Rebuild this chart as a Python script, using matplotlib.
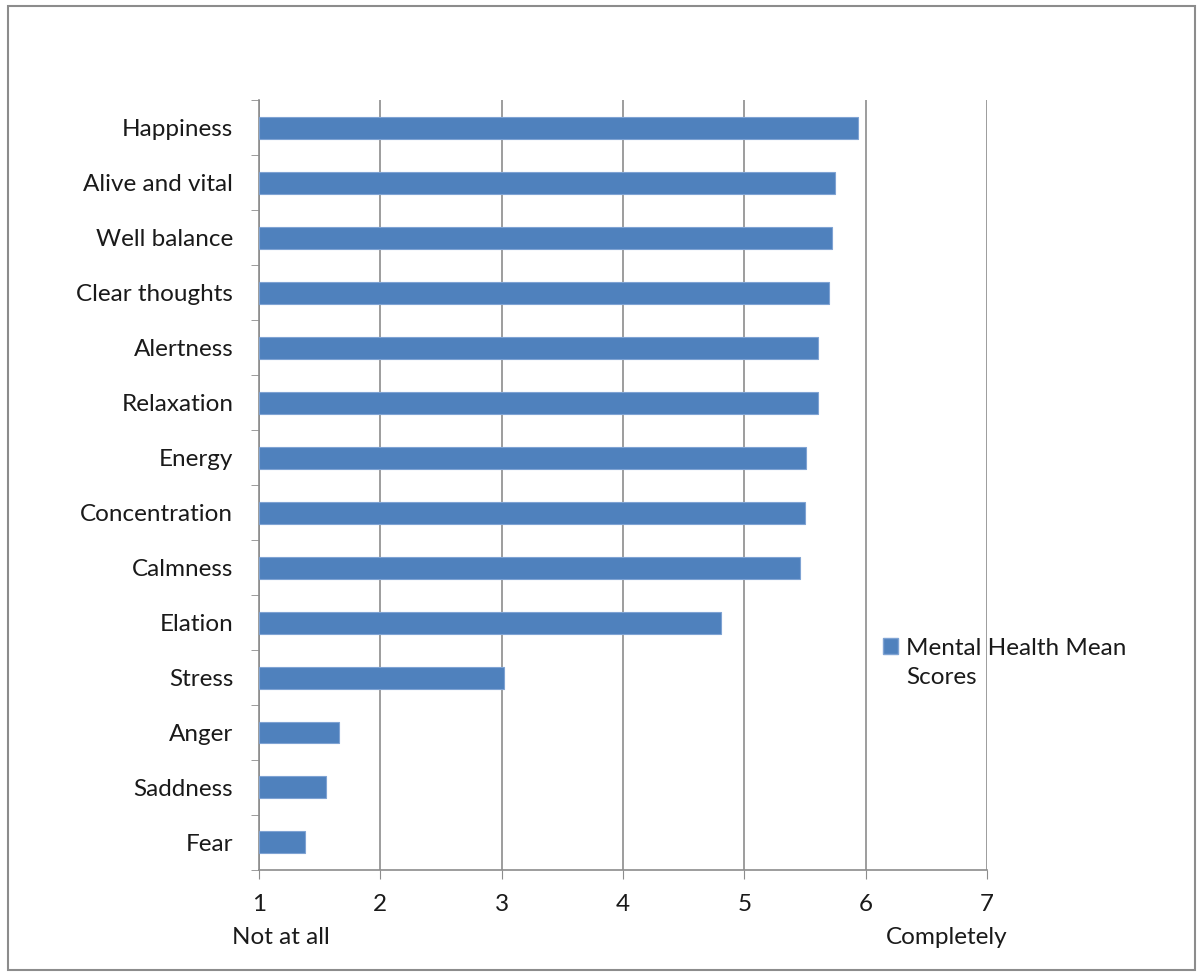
"""Mental health mean scores — horizontal bar chart (Excel-style)."""
import numpy as np
import matplotlib
matplotlib.use("Agg")
import matplotlib.pyplot as plt
from matplotlib.patches import Rectangle
from matplotlib.text import Annotation

# data, top to bottom as shown
categories = ["Happiness", "Alive and vital", "Well balance", "Clear thoughts",
              "Alertness", "Relaxation", "Energy", "Concentration", "Calmness",
              "Elation", "Stress", "Anger", "Saddness", "Fear"]
scores = [5.94, 5.75, 5.72, 5.70, 5.61, 5.61, 5.51, 5.50, 5.46,
          4.81, 3.02, 1.66, 1.55, 1.38]
x_ticks = [1, 2, 3, 4, 5, 6, 7]
series_label = ["Mental Health Mean", "Scores"]

BAR = "#4F81BD"
GRID = "#8C8C8C"
TXT = "#1a1a1a"
FS = 17.5
plt.rcParams["font.family"] = ["Lato", "DejaVu Sans"]

fig = plt.figure(figsize=(12.03, 9.75), dpi=100)
ax = fig.add_axes([0.2153, 0.1077, 0.6052, 0.7897])

n = len(categories)
ypos = np.arange(n)[::-1]
ax.barh(ypos, np.array(scores) - 1, left=1, height=0.4,
        color=BAR, edgecolor="#7FA3D3", linewidth=0.8, zorder=3)

ax.set_xlim(1, 7)
ax.set_ylim(-0.5, n - 0.5)
ax.set_xticks(x_ticks)
ax.set_xticklabels([str(v) for v in x_ticks], fontsize=FS, color=TXT)
ax.set_yticks(ypos)
ax.set_yticklabels(categories, fontsize=FS, color=TXT)
ax.set_yticks(np.arange(n + 1) - 0.5, minor=True)

ax.tick_params(axis="y", which="major", length=0, pad=18.5)
ax.tick_params(axis="y", which="minor", length=6, color=GRID, direction="out")
ax.tick_params(axis="x", which="major", length=6.5, color=GRID, direction="out", pad=11)

ax.grid(axis="x", color=GRID, linewidth=1.2, zorder=0)
for s in ["top", "right"]:
    ax.spines[s].set_visible(False)
for s in ["left", "bottom"]:
    ax.spines[s].set_color(GRID)
    ax.spines[s].set_linewidth(1.2)

# scale anchors under the first and last tick
ax.annotate("Not at all", xy=(1, 0), xycoords=("data", "axes fraction"),
            xytext=(-27, -68), textcoords="offset pixels", ha="left", va="center",
            fontsize=FS, color=TXT)
ax.annotate("Completely", xy=(7, 0), xycoords=("data", "axes fraction"),
            xytext=(20, -68), textcoords="offset pixels", ha="right", va="center",
            fontsize=FS, color=TXT)

# legend: square beside the first line, label wraps to a second line
handle = Rectangle((0, 0), 1, 1, facecolor=BAR, edgecolor="#7FA3D3")
leg = fig.legend([handle], [series_label[0]], loc="upper left",
                 bbox_to_anchor=(0.734, 0.346), frameon=False, fontsize=FS,
                 handlelength=0.62, handleheight=0.62, handletextpad=0.33,
                 borderpad=0, borderaxespad=0, labelcolor=TXT)
second = Annotation(series_label[1], xy=(0, 0), xycoords=leg.get_texts()[0],
                    xytext=(0, -8), textcoords="offset pixels", ha="left", va="top",
                    fontsize=FS, color=TXT)
second.set_zorder(10)
fig.add_artist(second)

# chart-area frame
fig.patches.append(Rectangle((8 / 1203, 1 - 970 / 975), 1187 / 1203, 964 / 975,
                             transform=fig.transFigure, fill=False,
                             edgecolor="#8C8C8C", linewidth=1.5))

fig.savefig("out.png", dpi=100)
